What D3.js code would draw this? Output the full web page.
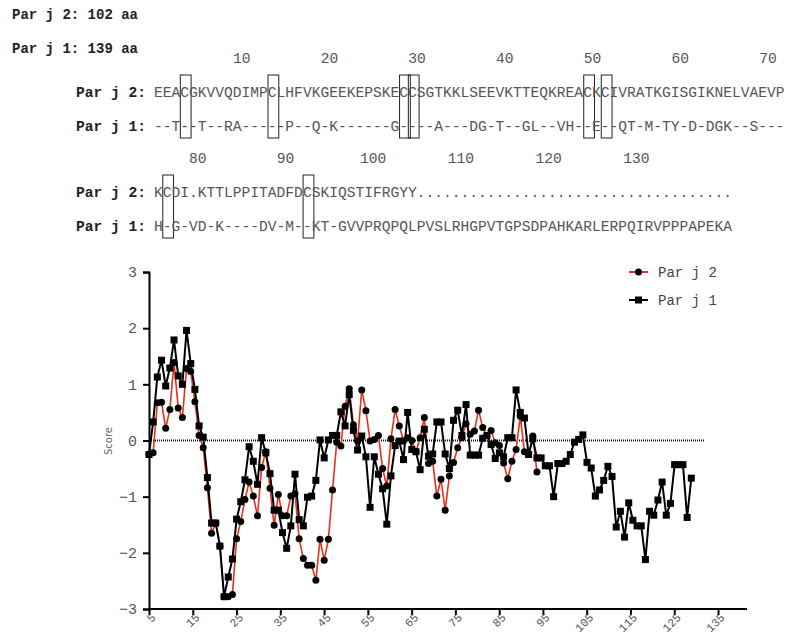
<!DOCTYPE html>
<html>
<head>
<meta charset="utf-8">
<script src="https://cdn.jsdelivr.net/npm/d3@7"></script>
<style>
  body { margin: 0; background: #fff; }
  svg { display: block; }
</style>
</head>
<body>
<div id="chart"></div>
<script>
// header lines
const headerLines = ["Par j 2: 102 aa", "Par j 1: 139 aa"];

// alignment blocks (top block runs off the right edge, as in the original)
const rulerTop = [10, 20, 30, 40, 50, 60, 70];
const rulerBottom = [80, 90, 100, 110, 120, 130];
const seqParj2a = "EEACGKVVQDIMPCLHFVKGEEKEPSKECCSGTKKLSEEVKTTEQKREACKCIVRATKGISGIKNELVAEVP";
const seqParj1a = "--T--T--RA-----P--Q-K------G----A---DG-T--GL--VH--E--QT-M-TY-D-DGK--S---";
const seqParj2b = "KCDI.KTTLPPITADFDCSKIQSTIFRGYY....................................";
const seqParj1b = "H-G-VD-K----DV-M--KT-GVVPRQPQLPVSLRHGPVTGPSDPAHKARLERPQIRVPPPAPEKA";
const boxColsTop = [4, 14, 29, 30, 50, 52];
const boxColsBottom = [2, 18];

// hydropathy scores, window centre starting at residue 5
const parj2Scores = [-0.25, -0.22, 0.67, 0.68, 0.22, 0.55, 1.39, 0.58, 0.41, 1.28,
  1.23, 0.69, 0.09, -0.13, -0.84, -1.65, -1.47, -1.88, -2.78, -2.78,
  -2.74, -1.75, -1.44, -1.05, -0.74, -0.99, -1.34, -0.48, -0.20, -0.85,
  -1.51, -0.96, -1.34, -1.34, -0.99, -0.95, -1.75, -2.10, -2.22, -2.22,
  -2.49, -1.76, -2.13, -1.76, -0.88, -0.03, -0.10, 0.61, 0.92, 0.28,
  -0.01, 0.90, 0.53, -0.01, 0.02, 0.09, -0.50, -0.81, 0.03, 0.55,
  0.26, -0.01, 0.05, 0.00, -0.20, 0.05, 0.41, -0.41, -0.37, -0.99,
  -0.69, -1.24, -0.63, -0.39, -0.13, 0.05, 0.30, 0.11, 0.17, 0.54,
  0.23, 0.09, 0.18, -0.04, -0.09, -0.40, -0.68, -0.37, -0.16, 0.43,
  -0.20, -0.25, 0.08, -0.56];
const parj1Scores = [-0.25, 0.33, 1.13, 1.43, 0.97, 1.29, 1.79, 1.15, 1.00, 1.96,
  1.37, 0.91, 0.26, 0.06, -0.66, -1.47, -1.47, -1.88, -2.78, -2.43,
  -2.11, -1.40, -1.09, -0.70, -0.11, -0.37, -0.78, 0.05, -0.22, -0.59,
  -1.24, -1.24, -1.64, -1.92, -1.52, -0.60, -1.41, -1.52, -1.01, -0.99,
  -0.71, 0.01, -0.31, 0.01, 0.09, 0.09, 0.51, 0.26, 0.82, 0.18,
  -0.17, 0.08, -0.29, -1.19, -0.29, -0.60, -0.86, -1.49, -0.63, -0.09,
  -0.01, -0.34, 0.50, -0.16, -0.20, -0.52, 0.20, -0.28, -0.24, 0.33,
  0.33, -0.24, -0.50, 0.36, 0.54, 0.09, 0.64, -0.26, -0.26, -0.26,
  0.04, 0.09, -0.07, -0.32, -0.22, -0.29, 0.05, 0.05, 0.90, 0.50,
  0.40, -0.25, 0.03, -0.31, -0.31, -0.45, -0.45, -1.00, -0.41, -0.41,
  -0.37, -0.25, -0.03, 0.02, 0.10, -0.39, -0.49, -0.99, -0.88, -0.71,
  -0.46, -0.64, -1.54, -1.26, -1.72, -1.11, -1.42, -1.52, -1.52, -2.12,
  -1.26, -1.33, -1.06, -0.74, -1.33, -1.12, -0.43, -0.43, -0.43, -1.37,
  -0.67];
const xTicks = [5, 15, 25, 35, 45, 55, 65, 75, 85, 95, 105, 115, 125, 135];
const yTicks = [-3, -2, -1, 0, 1, 2, 3];
const seriesNames = ["Par j 2", "Par j 1"];

const width = 792, height = 636;
const mono = "'Courier New', 'Liberation Mono', monospace";
const charW = 8.77, seqX = 154, fs = 14.6;

const svg = d3.select("#chart").append("svg")
  .attr("width", width).attr("height", height);

/* header */
svg.selectAll(".hdr").data(headerLines).enter().append("text")
  .attr("x", 12).attr("y", (d, i) => 19 + i * 34)
  .style("font-family", mono).style("font-weight", "bold")
  .style("font-size", "14px").attr("fill", "#222")
  .text(d => d);

/* alignment block */
function drawBlock(top, ruler, startPos, s2, s1, boxes) {
  const g = svg.append("g");
  g.selectAll(".num").data(ruler).enter().append("text")
    .attr("x", d => seqX + (d - startPos + 1) * charW)
    .attr("y", top + 5)
    .attr("text-anchor", "middle")
    .style("font-family", mono).style("font-size", fs + "px")
    .attr("fill", "#555").text(d => d);
  g.selectAll(".box").data(boxes).enter().append("rect")
    .attr("x", d => seqX + (d - 1) * charW)
    .attr("y", top + 17).attr("width", charW + 2).attr("height", 63)
    .attr("fill", "none").attr("stroke", "#222").attr("stroke-width", 1);
  [[s2, "Par j 2:", 39], [s1, "Par j 1:", 73]].forEach(([s, lab, dy]) => {
    g.append("text").attr("x", 76).attr("y", top + dy)
      .style("font-family", mono).style("font-weight", "bold")
      .style("font-size", fs + "px").attr("fill", "#222").text(lab);
    g.append("text").attr("x", seqX).attr("y", top + dy)
      .style("font-family", mono).style("font-size", fs + "px")
      .attr("fill", "#555").text(s);
  });
}
drawBlock(58, rulerTop, 1, seqParj2a, seqParj1a, boxColsTop);
drawBlock(158, rulerBottom, 76, seqParj2b, seqParj1b, boxColsBottom);

/* plot */
const y = d3.scaleLinear().domain([-3, 3]).range([609, 272]);
const xAxisScale = d3.scaleLinear().domain([5, 135]).range([149, 718]);
const xData = d3.scaleLinear().domain([5, 135]).range([149, 691.3]);
const pts2 = parj2Scores.map((v, i) => ({ pos: i + 5, v }));
const pts1 = parj1Scores.map((v, i) => ({ pos: i + 5, v }));

const tickColor = "#555";
// y axis
const yAxis = svg.append("g").attr("transform", "translate(149,0)")
  .call(d3.axisLeft(y).tickValues(yTicks).tickSize(6).tickPadding(6)
    .tickFormat(d => d < 0 ? "\u2212" + Math.abs(d) : d));
yAxis.select(".domain").attr("stroke-width", 2);
yAxis.selectAll(".tick line").attr("stroke-width", 2);
yAxis.selectAll("text").style("font-family", mono).style("font-size", "15px").attr("fill", tickColor);

// x axis
const xAxis = svg.append("g").attr("transform", "translate(0,609)")
  .call(d3.axisBottom(xAxisScale).tickValues(xTicks).tickSize(6).tickSizeOuter(0));
xAxis.select(".domain").attr("d", "M149,0H747").attr("stroke-width", 2);
xAxis.selectAll(".tick line").attr("stroke-width", 2);
xAxis.selectAll("text")
  .style("font-family", mono).style("font-size", "11.5px").attr("fill", tickColor)
  .attr("text-anchor", "end").attr("y", 0).attr("dy", 0)
  .attr("transform", "translate(7,9) rotate(-45)");

svg.append("text")
  .attr("transform", "translate(112,441) rotate(-90)")
  .attr("text-anchor", "middle")
  .style("font-family", "'DejaVu Sans', sans-serif").style("font-size", "10px")
  .attr("fill", "#666").text("Score");

// zero line
svg.append("line").attr("x1", 149).attr("x2", 705)
  .attr("y1", y(0)).attr("y2", y(0))
  .attr("stroke", "#111").attr("stroke-width", 2).attr("stroke-dasharray", "1,1");

const line = d3.line().x(d => xData(d.pos)).y(d => y(d.v));

svg.append("path").attr("d", line(pts2))
  .attr("fill", "none").attr("stroke", "#e8301c").attr("stroke-width", 1.6);
svg.append("g").selectAll("circle").data(pts2).enter().append("circle")
  .attr("cx", d => xData(d.pos)).attr("cy", d => y(d.v)).attr("r", 3.5).attr("fill", "#000");

svg.append("path").attr("d", line(pts1))
  .attr("fill", "none").attr("stroke", "#000").attr("stroke-width", 2);
svg.append("g").selectAll("rect").data(pts1).enter().append("rect")
  .attr("x", d => xData(d.pos) - 3.5).attr("y", d => y(d.v) - 3.5)
  .attr("width", 7).attr("height", 7).attr("fill", "#000");

/* legend */
const lg = svg.append("g").attr("transform", "translate(629,272)");
seriesNames.forEach((name, i) => {
  const g = lg.append("g").attr("transform", `translate(0,${i * 28})`);
  g.append("line").attr("x1", 0).attr("x2", 19)
    .attr("stroke", i === 0 ? "#e8301c" : "#000").attr("stroke-width", 2);
  if (i === 0) g.append("circle").attr("cx", 9.5).attr("r", 3.5).attr("fill", "#000");
  else g.append("rect").attr("x", 6).attr("y", -3.5).attr("width", 7).attr("height", 7).attr("fill", "#000");
  g.append("text").attr("x", 29).attr("dy", "0.35em")
    .style("font-family", mono).style("font-size", "14px").attr("fill", "#444").text(name);
});
</script>
</body>
</html>
